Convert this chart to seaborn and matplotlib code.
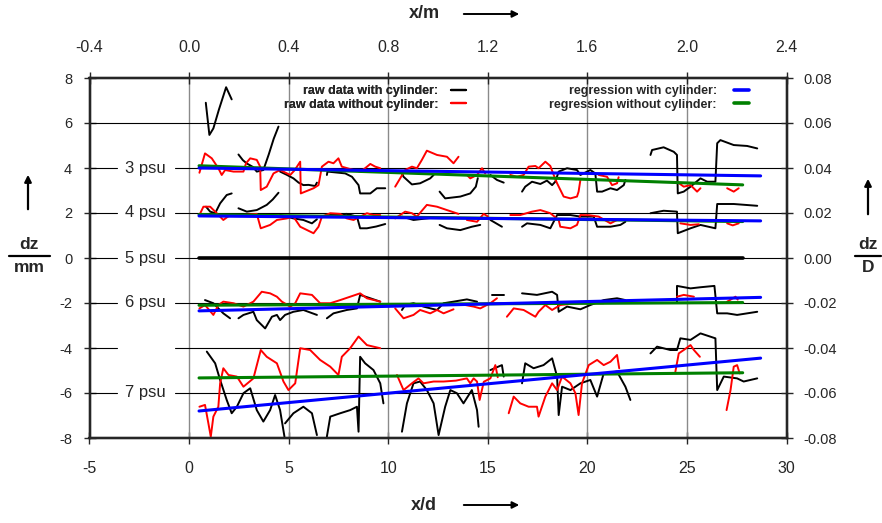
import numpy as np
import pandas as pd
import matplotlib
matplotlib.use("Agg")
import matplotlib.pyplot as plt
from matplotlib.lines import Line2D
import seaborn as sns

# ---- raw traces: polylines of (x/d, dz in mm) per salinity level ----
psu3_with = [
    [(0.84, 6.9), (1.02, 5.47), (1.22, 5.76), (1.5, 6.6), (1.86, 7.59), (2.14, 7.05)],
    [(2.48, 4.6), (2.7, 4.35), (2.9, 4.2), (3.2, 4.05), (3.4, 3.84), (3.73, 3.91), (4.0, 4.6), (4.25, 5.3), (4.49, 5.84)],
    [(4.57, 3.84), (4.9, 3.7), (5.24, 3.54), (5.5, 3.35), (5.74, 3.24), (6.0, 3.25), (6.33, 3.2), (6.42, 3.35)],
    [(6.92, 3.69), (6.95, 3.84), (7.4, 3.8), (7.84, 3.76), (8.18, 3.61), (8.51, 3.24), (8.59, 2.87), (9.1, 2.87), (9.43, 3.1), (9.85, 3.1)],
    [(10.69, 3.76), (10.77, 3.61), (11.19, 3.27), (11.6, 3.32), (12.11, 3.54), (12.28, 3.69)],
    [(12.58, 2.95), (12.86, 2.65), (13.62, 2.73), (14.12, 2.87), (14.4, 3.17), (14.5, 3.55)],
    [(15.13, 3.69), (15.46, 3.47), (15.8, 3.35)],
    [(16.72, 2.95), (16.88, 3.17), (17.22, 3.39), (17.64, 3.29), (17.97, 3.44), (18.23, 3.24), (18.39, 3.39),
     (18.56, 3.84), (18.98, 3.99), (19.48, 3.91), (19.65, 3.69), (20.15, 3.91), (20.4, 3.76), (20.49, 2.95),
     (20.74, 2.95), (21.16, 3.1), (21.49, 3.02), (21.83, 3.24), (21.91, 3.47)],
    [(23.17, 4.58), (23.25, 4.8), (23.83, 4.92), (24.34, 4.72), (24.5, 4.58), (24.54, 2.87), (24.84, 2.95),
     (25.18, 3.17), (25.68, 3.54), (26.02, 3.39), (26.43, 3.39), (26.52, 5.1), (26.68, 5.24), (27.35, 5.02),
     (28.02, 4.98), (28.53, 4.87)],
]
psu3_without = [
    [(0.52, 3.79), (0.8, 4.65), (1.14, 4.43), (1.47, 3.99), (1.64, 3.69), (1.81, 3.91), (2.23, 3.84), (2.73, 3.84),
     (2.86, 4.21), (3.07, 4.43), (3.4, 4.36), (3.57, 4.06), (3.6, 3.02), (3.9, 3.17), (4.24, 3.76), (4.57, 3.91),
     (5.08, 3.69), (5.3, 3.9), (5.58, 4.28), (5.61, 2.87), (6.25, 3.1), (6.5, 3.24), (6.67, 4.06), (7.0, 4.28),
     (7.25, 4.21), (7.5, 4.43), (7.67, 4.06), (8.26, 3.91), (8.59, 3.84), (8.84, 3.99), (9.1, 4.18), (9.35, 4.06),
     (9.6, 3.99)],
    [(10.35, 3.17), (10.85, 3.91), (11.19, 4.06), (11.44, 3.99), (11.69, 4.36), (11.94, 4.77), (12.45, 4.58),
     (12.95, 4.5), (13.28, 4.21), (13.53, 4.5)],
    [(13.95, 3.69), (14.12, 3.54), (14.46, 3.69), (14.71, 3.99), (14.87, 3.76)],
    [(16.13, 3.69), (16.47, 3.61), (16.8, 3.69), (17.05, 4.06), (17.39, 4.09), (17.55, 3.99), (17.89, 4.28),
     (18.14, 4.09), (18.31, 3.69), (18.48, 3.32), (18.81, 2.73), (19.15, 2.65), (19.48, 2.73), (19.56, 2.95),
     (19.65, 3.47)],
    [(20.57, 3.69), (20.99, 3.61), (21.24, 3.24), (21.49, 3.32), (21.57, 3.59)],
    [(24.5, 3.39), (24.84, 3.17), (25.18, 3.24), (25.51, 2.95), (25.68, 3.1)],
    [(27.02, 3.1), (27.35, 2.95), (27.6, 3.1)],
]

psu4_with = [
    [(0.85, 2.28), (1.06, 2.06), (1.31, 1.99), (1.56, 2.43), (1.89, 2.8), (2.14, 2.87)],
    [(2.48, 2.21), (2.9, 2.06), (3.4, 2.13), (3.9, 2.36), (4.2, 2.6), (4.49, 2.9)],
    [(4.57, 1.91), (5.24, 1.76), (5.74, 1.69), (6.17, 1.54), (6.42, 1.72)],
    [(6.92, 1.91), (7.92, 1.96), (8.43, 1.84), (8.59, 1.32), (8.93, 1.32), (9.4, 1.4), (9.85, 1.51)],
    [(10.69, 1.84), (11.27, 1.69), (11.94, 1.76), (12.3, 1.8)],
    [(12.58, 1.47), (12.95, 1.32), (13.62, 1.24), (14.2, 1.39), (14.62, 1.47)],
    [(15.13, 1.69), (15.71, 1.39)],
    [(16.72, 1.39), (16.97, 1.54), (17.64, 1.47), (18.14, 1.32), (18.48, 1.91), (19.15, 1.91), (19.65, 1.84),
     (20.32, 1.84), (20.49, 1.39), (21.16, 1.39), (21.66, 1.47), (21.91, 1.61)],
    [(23.17, 1.99), (23.83, 2.1), (24.5, 2.06), (24.54, 1.1), (25.18, 1.32), (25.68, 1.47), (26.43, 1.32),
     (26.52, 2.4), (27.35, 2.4), (28.53, 2.32)],
]
psu4_without = [
    [(0.52, 1.91), (0.72, 2.28), (1.06, 2.28), (1.39, 1.99), (1.72, 1.69), (2.06, 1.91), (2.7, 1.91), (3.4, 1.96),
     (3.6, 1.32), (4.07, 1.47), (4.41, 1.69), (4.91, 1.76), (5.24, 1.84), (5.58, 1.39), (6.25, 1.1), (6.5, 1.39),
     (6.67, 1.84), (7.09, 1.99), (7.59, 1.96), (7.92, 1.76), (8.26, 1.69), (8.93, 1.99), (9.26, 1.91), (9.6, 1.91)],
    [(10.35, 1.76), (10.85, 2.06), (11.19, 1.99), (11.44, 1.84), (11.94, 2.36), (12.45, 2.28), (12.95, 2.13),
     (13.53, 1.96)],
    [(13.95, 1.69), (14.46, 1.61), (14.79, 1.96), (15.0, 1.85)],
    [(16.13, 1.91), (16.63, 1.91), (17.22, 2.06), (17.64, 2.13), (18.14, 1.99), (18.56, 1.69), (18.64, 1.39),
     (19.15, 1.32), (19.48, 1.47), (19.65, 1.91), (20.1, 1.9), (20.57, 1.84), (21.16, 1.54), (21.49, 1.69)],
    [(24.67, 1.54), (25.18, 1.47), (25.6, 1.5)],
    [(27.02, 1.54), (27.3, 1.45), (27.6, 1.54)],
]

psu6_with = [
    [(0.8, -1.87), (1.22, -2.01), (1.47, -2.24), (1.72, -2.46), (2.06, -2.68)],
    [(2.48, -2.68), (2.73, -2.53), (3.23, -2.39), (3.4, -2.76), (3.82, -3.13), (4.16, -2.61), (4.41, -2.53),
     (4.57, -2.76), (4.82, -2.53), (5.24, -2.39), (5.74, -2.31), (6.42, -2.53)],
    [(6.92, -2.68), (7.25, -2.46), (7.92, -2.31), (8.43, -2.24), (8.59, -1.64), (9.1, -1.79), (9.6, -1.94)],
    [(10.69, -2.31), (10.85, -2.09), (11.27, -2.01), (11.77, -2.16), (12.45, -2.31), (12.78, -2.01),
     (13.28, -1.94), (13.95, -1.84), (14.46, -1.94)],
    [(15.21, -1.64), (15.8, -1.64)],
    [(16.72, -1.57), (17.47, -1.64), (18.23, -1.5), (18.48, -1.64), (18.56, -2.39), (18.98, -2.16),
     (19.65, -2.28), (20.15, -2.09), (20.82, -1.87), (21.49, -1.79), (21.91, -1.87)],
    [(24.5, -1.95), (24.5, -1.24), (25.18, -1.35), (25.68, -1.3), (26.38, -1.24), (26.52, -2.46),
     (27.02, -2.46), (27.52, -2.53), (28.53, -2.39)],
]
psu6_without = [
    [(0.52, -2.24), (0.8, -2.09), (1.22, -2.53), (1.47, -2.09), (1.72, -1.94), (2.23, -2.01), (2.73, -2.16),
     (3.23, -1.94), (3.65, -1.5), (4.07, -1.57), (4.41, -1.72), (4.66, -1.94), (5.08, -2.16), (5.33, -2.01),
     (5.58, -1.57), (6.17, -1.64), (6.58, -2.01), (7.09, -2.01), (7.59, -1.87), (8.09, -1.72), (8.59, -1.57),
     (8.93, -1.79), (9.6, -1.94)],
    [(10.35, -2.24), (10.77, -2.68), (11.27, -2.53), (11.6, -2.31), (12.11, -2.46), (12.45, -2.31),
     (12.78, -2.46), (13.28, -2.28)],
    [(13.87, -2.09), (14.29, -2.16), (14.62, -2.24), (15.13, -2.01), (15.46, -1.79)],
    [(15.96, -2.61), (16.3, -2.24), (16.8, -2.31), (17.39, -2.61), (17.55, -2.39), (17.89, -2.09),
     (18.23, -2.31), (18.64, -2.09), (19.48, -2.01), (20.15, -2.01), (20.82, -2.01)],
    [(24.5, -1.72), (24.84, -1.64), (25.35, -1.72)],
    [(27.02, -1.94), (27.44, -1.72), (27.55, -1.85)],
]

psu7_with = [
    [(0.89, -4.16), (1.31, -4.68), (1.56, -5.42), (1.89, -6.31), (2.14, -6.9), (2.4, -6.61), (2.73, -6.01),
     (3.07, -5.79), (3.4, -6.76), (3.73, -7.27), (4.07, -6.76), (4.32, -6.09), (4.57, -6.76), (4.79, -7.94)],
    [(4.82, -7.35), (5.24, -6.9), (5.74, -6.61), (6.17, -6.9), (6.42, -7.87)],
    [(6.92, -7.94), (7.09, -7.05), (7.59, -6.9), (8.09, -6.76), (8.43, -6.61), (8.51, -7.72), (8.59, -4.39),
     (8.84, -4.68), (9.26, -4.98), (9.6, -5.57), (9.76, -6.46)],
    [(10.69, -7.72), (10.94, -6.46), (11.27, -5.57), (11.6, -5.49), (11.94, -5.87), (12.28, -6.46),
     (12.53, -7.87), (12.86, -6.61), (13.12, -5.87), (13.45, -6.01), (13.78, -6.46), (14.2, -5.87),
     (14.46, -6.76), (14.54, -7.5)],
    [(15.13, -4.98), (15.71, -4.76), (15.8, -5.27)],
    [(16.72, -5.57), (16.88, -4.68), (17.3, -4.9), (17.8, -4.76), (18.23, -4.46), (18.48, -5.27),
     (18.56, -6.98), (18.73, -5.72), (19.15, -5.87), (19.65, -5.57), (20.15, -5.42), (20.49, -6.16),
     (20.82, -5.13), (21.49, -5.05), (21.91, -5.72), (22.16, -6.31)],
    [(23.17, -4.24), (23.5, -3.94), (24.17, -4.09), (24.5, -4.09), (24.67, -3.57), (25.18, -3.64),
     (25.68, -3.35), (26.43, -3.57), (26.52, -5.87), (26.85, -5.27), (27.52, -5.35), (27.85, -5.49),
     (28.53, -5.35)],
]
psu7_without = [
    [(0.52, -6.61), (0.8, -6.53), (0.97, -7.35), (1.09, -7.94), (1.22, -7.05), (1.47, -6.61), (1.56, -5.57),
     (1.72, -4.9), (1.98, -5.2), (2.4, -5.27), (2.73, -5.72), (3.23, -5.35), (3.6, -4.09), (3.9, -4.39),
     (4.41, -4.68), (4.74, -5.49), (4.99, -5.87), (5.33, -5.57), (5.58, -4.01), (6.08, -4.09), (6.58, -4.53),
     (7.09, -4.83), (7.5, -5.2), (7.67, -4.39), (8.09, -4.01), (8.51, -3.49), (8.93, -3.87), (9.26, -3.94),
     (9.6, -4.01)],
    [(10.44, -5.2), (10.77, -5.87), (11.19, -5.57), (11.52, -5.35), (11.77, -5.57), (12.28, -5.49),
     (12.78, -5.49), (13.4, -5.45), (13.95, -5.35), (14.12, -5.57), (14.29, -5.35), (14.46, -5.49),
     (14.59, -6.31), (14.8, -5.5), (15.13, -5.35), (15.38, -4.76), (15.5, -5.3)],
    [(16.05, -6.9), (16.3, -6.16), (16.63, -6.46), (17.05, -6.61), (17.47, -6.61), (17.55, -7.05),
     (17.89, -6.16), (18.23, -5.57), (18.48, -5.87), (18.73, -5.27), (19.15, -5.57), (19.4, -6.01),
     (19.56, -6.98), (19.73, -5.57), (20.07, -4.76), (20.49, -4.53), (20.82, -4.76), (21.16, -4.61),
     (21.49, -4.31), (21.6, -4.9)],
    [(24.42, -5.05), (24.59, -4.24), (24.84, -4.09), (25.18, -3.87), (25.35, -4.09), (25.65, -4.39)],
    [(26.99, -6.76), (27.19, -5.87), (27.35, -4.83), (27.52, -4.76), (27.65, -5.13)],
]

# 5 psu is the reference level
ref_x = [0.5, 27.8]
ref_dz = [0.0, 0.0]

# ---- linear regressions (start / end value per level: 3, 4, 6, 7 psu) ----
reg_with_x = [0.5, 28.7]
reg_with_start = [4.0, 1.87, -2.35, -6.8]
reg_with_end = [3.65, 1.65, -1.75, -4.45]
reg_without_x = [0.5, 27.8]
reg_without_start = [4.1, 1.93, -2.1, -5.33]
reg_without_end = [3.25, 1.62, -1.98, -5.1]

level_names = ["3 psu", "4 psu", "5 psu", "6 psu", "7 psu"]
level_dz = [4, 2, 0, -2, -6]

x_ticks_d = [-5, 0, 5, 10, 15, 20, 25, 30]
y_ticks_mm = [-8, -6, -4, -2, 0, 2, 4, 6, 8]
d_cyl = 0.08      # cylinder diameter in m
D_mm = 100.0      # dz/D scaling on the right axis


def to_frame(traces):
    rows = []
    for k, seg in enumerate(traces):
        for x, y in seg:
            rows.append((k, x, y))
    return pd.DataFrame(rows, columns=["seg", "x", "dz"])


sns.set_style("ticks")
plt.rcParams["font.family"] = ["Liberation Sans", "DejaVu Sans"]
plt.rcParams["axes.unicode_minus"] = False

fig = plt.figure(figsize=(8.82, 5.23), dpi=100)
ax = fig.add_axes([89.5 / 882, 1 - 438 / 523, (786.5 - 89.5) / 882, 360 / 523])
ax.set_xlim(-5, 30)
ax.set_ylim(-8, 8)

# grid: grey verticals, black horizontals with a gap for the level labels
for xv in [0, 5, 10, 15, 20, 25]:
    ax.axvline(xv, color="#8a8a8a", lw=1.0, zorder=1)
ax.axhline(6, color="black", lw=0.8, zorder=1)
for yv in [4, 2, 0, -2, -4, -6]:
    ax.plot([-5, -3.62], [yv, yv], color="black", lw=0.8, zorder=1)
    ax.plot([-0.70, 30], [yv, yv], color="black", lw=0.8, zorder=1)

for name, yv in zip(level_names, level_dz):
    ax.text(-2.2, yv, name, ha="center", va="center", fontsize=12, zorder=3)

# raw data
for traces_with, traces_without in [(psu3_with, psu3_without), (psu4_with, psu4_without),
                                    (psu6_with, psu6_without), (psu7_with, psu7_without)]:
    sns.lineplot(data=to_frame(traces_with), x="x", y="dz", units="seg", estimator=None, sort=False,
                 color="black", lw=1.4, ax=ax, zorder=4)
    sns.lineplot(data=to_frame(traces_without), x="x", y="dz", units="seg", estimator=None, sort=False,
                 color="#ff0000", lw=1.4, ax=ax, zorder=4)

sns.lineplot(x=ref_x, y=ref_dz, color="black", lw=2.6, ax=ax, zorder=5)

# regressions
for s, e in zip(reg_without_start, reg_without_end):
    sns.lineplot(x=reg_without_x, y=[s, e], color="#008000", lw=2.2, ax=ax, zorder=6)
for s, e in zip(reg_with_start, reg_with_end):
    sns.lineplot(x=reg_with_x, y=[s, e], color="#0000ff", lw=2.2, ax=ax, zorder=7)

# axes cosmetics
ax.set_xticks(x_ticks_d)
ax.set_yticks(y_ticks_mm)
ax.set_xlabel("")
ax.set_ylabel("")
ax.tick_params(direction="inout", length=9, width=1, labelsize=10.5, pad=8)
ax.tick_params(axis="x", pad=12, labelsize=11.5)
for sp in ax.spines.values():
    sp.set_linewidth(1.6)
    sp.set_visible(True)

ax_top = ax.twiny()
ax_top.set_xlim(-5 * d_cyl, 30 * d_cyl)
ax_top.set_xticks([v * d_cyl for v in x_ticks_d])
ax_top.set_xticklabels([f"{v * d_cyl:.1f}" for v in x_ticks_d], fontsize=11.5)
ax_top.tick_params(direction="inout", length=9, width=1, pad=12)

ax_right = ax.twinx()
ax_right.set_ylim(-8 / D_mm, 8 / D_mm)
ax_right.set_yticks([v / D_mm for v in y_ticks_mm])
ax_right.set_yticklabels([f"{v / D_mm:.2f}" for v in y_ticks_mm], fontsize=10.5)
ax_right.tick_params(direction="inout", length=9, width=1, pad=8)
for a in (ax_top, ax_right):
    for sp in a.spines.values():
        sp.set_linewidth(1.6)

# legends: label on the left, line sample on the right
raw_handles = [Line2D([], [], color="black", lw=1.6), Line2D([], [], color="#ff0000", lw=1.6)]
leg1 = ax.legend(raw_handles, ["raw data with cylinder:", "raw data without cylinder:"],
                 loc="upper right", bbox_to_anchor=(0.556, 1.012), markerfirst=False, frameon=False,
                 handlelength=1.2, handletextpad=1.0, labelspacing=0.15,
                 prop={"weight": "bold", "size": 9})
ax.add_artist(leg1)
reg_handles = [Line2D([], [], color="#0000ff", lw=2.6), Line2D([], [], color="#008000", lw=2.6)]
ax_right.legend(reg_handles, ["regression with cylinder:", "regression without cylinder:"],
                loc="upper right", bbox_to_anchor=(0.963, 1.012), markerfirst=False, frameon=False,
                handlelength=1.2, handletextpad=1.4, labelspacing=0.15,
                prop={"weight": "bold", "size": 9})


def fx(px):
    return px / 882


def fy(py):
    return 1 - py / 523


# axis titles with arrows
fig.text(fx(424), fy(14), "x/m", ha="center", va="center", fontsize=13, weight="bold")
fig.text(fx(424), fy(505), "x/d", ha="center", va="center", fontsize=13, weight="bold")
for py in (14, 505):
    fig.add_artist(matplotlib.patches.FancyArrowPatch((fx(461), fy(py)), (fx(522), fy(py)),
                   transform=fig.transFigure, arrowstyle="-|>", mutation_scale=10, lw=1.4, color="black"))

# left: dz / mm with upward arrow
fig.add_artist(matplotlib.patches.FancyArrowPatch((fx(28), fy(212)), (fx(28), fy(172)),
               transform=fig.transFigure, arrowstyle="-|>", mutation_scale=10, lw=1.6, color="black"))
fig.text(fx(29), fy(244), "dz", ha="center", va="center", fontsize=12.5, weight="bold")
fig.add_artist(Line2D([fx(9), fx(50)], [fy(256), fy(256)], transform=fig.transFigure, color="black", lw=1.6))
fig.text(fx(29), fy(268), "mm", ha="center", va="center", fontsize=12.5, weight="bold")

# right: dz / D with upward arrow
fig.add_artist(matplotlib.patches.FancyArrowPatch((fx(868), fy(217)), (fx(868), fy(176)),
               transform=fig.transFigure, arrowstyle="-|>", mutation_scale=10, lw=1.6, color="black"))
fig.text(fx(868), fy(244), "dz", ha="center", va="center", fontsize=12.5, weight="bold")
fig.add_artist(Line2D([fx(855), fx(881)], [fy(256), fy(256)], transform=fig.transFigure, color="black", lw=1.6))
fig.text(fx(868), fy(268), "D", ha="center", va="center", fontsize=12.5, weight="bold")

fig.savefig("out.png", dpi=100)
